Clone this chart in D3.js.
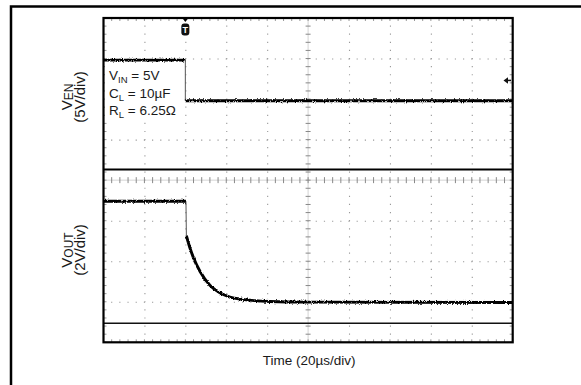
<!DOCTYPE html>
<html>
<head>
<meta charset="utf-8">
<script src="https://cdn.jsdelivr.net/npm/d3@7"></script>
<style>
  body { margin: 0; background: #fff; }
  svg { display: block; font-family: "Liberation Sans", Arial, sans-serif; }
  .lbl { fill: #1a1a1a; }
</style>
</head>
<body>
<script>
// scope screen: 10 divisions of 20us across, 8 divisions up
var timeDomain = [-40, 160];
var divDomain = [-4, 4];
var triggerTime = 0;

// EN channel: 5V/div, ground marker 1.96 div above centre
var enVperDiv = 5, enGround = 1.96, enTrigLevel = 2.5;
var enTime  = [-40, 0, 0, 160];
var enVolts = [5.0, 5.0, 0.0, 0.0];

// OUT channel: 2V/div, ground 3 div below centre
var outVperDiv = 2, outGround = -3.02;
var outTime  = [-40, 0.3, 0.5, 2.3, 3.9, 7.2, 12.1, 16.9, 21.8, 28.2, 31.6, 41.4, 60, 160];
var outVolts = [5.0, 5.0, 3.3, 2.68, 2.23, 1.53, 0.84, 0.48, 0.27, 0.16, 0.12, 0.05, 0.02, 0.0];

var conditions = [["V", "IN", " = 5V"], ["C", "L", " = 10\u00b5F"], ["R", "L", " = 6.25\u03a9"]];
var xTitle = "Time (20\u00b5s/div)";
var enTitle = ["V", "EN", "(5V/div)"];
var outTitle = ["V", "OUT", "(2V/div)"];

var width = 581, height = 385;
var plot = {left: 103.5, right: 512.7, top: 18, bottom: 342.3};

var svg = d3.select("body").append("svg")
    .attr("width", width)
    .attr("height", height);

// scope noise on the slow parts of the traces (vertical jitter only)
var defs = svg.append("defs");
var filt = defs.append("filter").attr("id", "rough").attr("filterUnits", "userSpaceOnUse")
    .attr("x", 0).attr("y", 0).attr("width", width).attr("height", height);
filt.append("feTurbulence").attr("type", "fractalNoise")
    .attr("baseFrequency", "1.1 0.7").attr("numOctaves", 2).attr("seed", 4).attr("result", "n");
filt.append("feColorMatrix").attr("in", "n").attr("type", "matrix")
    .attr("values", "0 0 0 0 0.5  0 1 0 0 0  0 0 1 0 0  0 0 0 0 1").attr("result", "ny");
filt.append("feDisplacementMap").attr("in", "SourceGraphic").attr("in2", "ny")
    .attr("scale", 3.4).attr("xChannelSelector", "R").attr("yChannelSelector", "G");

var x = d3.scaleLinear().domain(timeDomain).range([plot.left, plot.right]);
var yDiv = d3.scaleLinear().domain(divDomain).range([plot.bottom, plot.top]);

// outer frame (cropped at right/bottom)
svg.append("path")
    .attr("d", "M11," + height + "V6.5H" + width)
    .attr("fill", "none").attr("stroke", "#000").attr("stroke-width", 2.5);

var stepX = (x(20) - x(0)) / 5, stepY = (yDiv(0) - yDiv(1)) / 5;

// dotted grid lines
var vGrid = d3.range(-20, 160, 20).filter(function(d) { return d !== 60; });
var hGrid = d3.range(-3, 4, 1).filter(function(d) { return d !== 0; });

var gx = svg.append("g")
    .attr("transform", "translate(0," + (plot.bottom + 0.6) + ")")
    .call(d3.axisBottom(x).tickValues(vGrid).tickFormat("").tickSize(-(plot.bottom - plot.top)));
gx.select(".domain").remove();
gx.selectAll("line").attr("stroke", "#9a9a9a").attr("stroke-width", 1.1)
    .attr("stroke-dasharray", "1.2," + (stepY - 1.2));

var gy = svg.append("g")
    .attr("transform", "translate(" + (plot.left - 0.6) + ",0)")
    .call(d3.axisLeft(yDiv).tickValues(hGrid).tickFormat("").tickSize(-(plot.right - plot.left)));
gy.select(".domain").remove();
gy.selectAll("line").attr("stroke", "#9a9a9a").attr("stroke-width", 1.1)
    .attr("stroke-dasharray", "1.2," + (stepX - 1.2));

// centre graticule lines with minor ticks
var minorT = d3.range(-40, 160.01, 4);
var minorD = d3.range(-4, 4.01, 0.2);
var cx = x(60), cy = yDiv(0);
svg.append("line").attr("x1", cx).attr("x2", cx).attr("y1", plot.top).attr("y2", plot.bottom)
    .attr("stroke", "#c8c8c8").attr("stroke-width", 0.8);
svg.append("line").attr("y1", cy).attr("y2", cy).attr("x1", plot.left).attr("x2", plot.right)
    .attr("stroke", "#c8c8c8").attr("stroke-width", 0.8);

svg.append("g").selectAll("line").data(minorD).join("line")
    .attr("x1", cx - 2.5).attr("x2", cx + 2.5)
    .attr("y1", function(d) { return yDiv(d); }).attr("y2", function(d) { return yDiv(d); })
    .attr("stroke", "#888").attr("stroke-width", 1);
svg.append("g").selectAll("line").data(minorT).join("line")
    .attr("y1", cy - 3).attr("y2", cy + 3)
    .attr("x1", function(d) { return x(d); }).attr("x2", function(d) { return x(d); })
    .attr("stroke", "#888").attr("stroke-width", 1);

// edge ticks
var edge = svg.append("g").attr("stroke", "#999").attr("stroke-width", 1);
edge.selectAll(".et").data(minorT).join("line").attr("class", "et")
    .attr("x1", function(d) { return x(d); }).attr("x2", function(d) { return x(d); })
    .attr("y1", plot.top).attr("y2", plot.top + 3);
edge.selectAll(".eb").data(minorT).join("line").attr("class", "eb")
    .attr("x1", function(d) { return x(d); }).attr("x2", function(d) { return x(d); })
    .attr("y1", plot.bottom).attr("y2", plot.bottom - 3);
edge.selectAll(".el").data(minorD).join("line").attr("class", "el")
    .attr("y1", function(d) { return yDiv(d); }).attr("y2", function(d) { return yDiv(d); })
    .attr("x1", plot.left).attr("x2", plot.left + 3);
edge.selectAll(".er").data(minorD).join("line").attr("class", "er")
    .attr("y1", function(d) { return yDiv(d); }).attr("y2", function(d) { return yDiv(d); })
    .attr("x1", plot.right).attr("x2", plot.right - 3);

// panel separator and lower reference line
svg.append("line").attr("x1", plot.left).attr("x2", plot.right)
    .attr("y1", 169.5).attr("y2", 169.5).attr("stroke", "#000").attr("stroke-width", 2);
svg.append("line").attr("x1", plot.left).attr("x2", plot.right)
    .attr("y1", 323.3).attr("y2", 323.3).attr("stroke", "#111").attr("stroke-width", 1.5);

// white box for the test conditions
svg.append("rect").attr("x", plot.left + 1.5).attr("y", 63).attr("width", 78).attr("height", 56)
    .attr("fill", "#fff");

// traces: slow parts drawn thick and noisy, near-vertical edges thin
function drawTrace(times, volts, vPerDiv, ground) {
    var pts = times.map(function(t, i) {
        return [x(t), yDiv(ground + volts[i] / vPerDiv)];
    });
    var runs = [], cur = [pts[0]];
    for (var i = 1; i < pts.length; i++) {
        var dx = pts[i][0] - pts[i - 1][0], dy = pts[i][1] - pts[i - 1][1];
        if (Math.abs(dy) > 12 * Math.abs(dx) + 1) {
            svg.append("line")
                .attr("x1", pts[i - 1][0]).attr("y1", pts[i - 1][1])
                .attr("x2", pts[i][0]).attr("y2", pts[i][1])
                .attr("stroke", "#555").attr("stroke-width", 1);
            runs.push(cur);
            cur = [pts[i]];
        } else {
            cur.push(pts[i]);
        }
    }
    runs.push(cur);
    var line = d3.line().curve(d3.curveMonotoneX);
    runs.forEach(function(r) {
        if (r.length < 2) return;
        svg.append("path").attr("d", line(r))
            .attr("fill", "none").attr("stroke", "#000").attr("stroke-width", 2.9)
            .attr("filter", "url(#rough)");
    });
}
drawTrace(enTime, enVolts, enVperDiv, enGround);
drawTrace(outTime, outVolts, outVperDiv, outGround);

// plot border
svg.append("rect").attr("x", plot.left).attr("y", plot.top)
    .attr("width", plot.right - plot.left).attr("height", plot.bottom - plot.top)
    .attr("fill", "none").attr("stroke", "#000").attr("stroke-width", 2.2);

// trigger marker
var tx = x(triggerTime);
svg.append("path").attr("d", "M" + (tx - 3.5) + ",17.5L" + (tx + 3.5) + ",17.5L" + tx + ",22Z").attr("fill", "#000");
svg.append("rect").attr("x", tx - 4).attr("y", 23.5).attr("width", 8).attr("height", 12).attr("rx", 3)
    .attr("fill", "#111");
svg.append("text").attr("x", tx).attr("y", 32.5).attr("text-anchor", "middle")
    .attr("font-size", 9).attr("font-weight", "bold").attr("fill", "#fff").text("T");

// trigger level arrow
var ty = yDiv(enGround + enTrigLevel / enVperDiv);
svg.append("path")
    .attr("d", "M503.5," + ty + "L508," + (ty - 3.2) + "L508," + (ty + 3.2) + "Z")
    .attr("fill", "#111");
svg.append("line").attr("x1", 507).attr("x2", 511).attr("y1", ty).attr("y2", ty)
    .attr("stroke", "#111").attr("stroke-width", 1.5);

// test conditions
conditions.forEach(function(c, i) {
    var t = svg.append("text").attr("class", "lbl")
        .attr("x", 109).attr("y", 80 + i * 17.5).attr("font-size", 13.5);
    t.append("tspan").text(c[0]);
    t.append("tspan").attr("font-size", 9.5).attr("dy", 3).text(c[1]);
    t.append("tspan").attr("dy", -3).text(c[2]);
});

// axis titles
function yTitle(parts, cyPos) {
    var g = svg.append("g").attr("transform", "translate(0," + cyPos + ") rotate(-90)");
    var t1 = g.append("text").attr("class", "lbl").attr("x", 0).attr("y", 72)
        .attr("text-anchor", "middle").attr("font-size", 15);
    t1.append("tspan").text(parts[0]);
    t1.append("tspan").attr("font-size", 12).attr("dy", 1).text(parts[1]);
    g.append("text").attr("class", "lbl").attr("x", 0).attr("y", 84.5)
        .attr("text-anchor", "middle").attr("font-size", 15).text(parts[2]);
}
yTitle(enTitle, 97);
yTitle(outTitle, 250);

svg.append("text").attr("class", "lbl").attr("x", (plot.left + plot.right) / 2 + 1).attr("y", 365)
    .attr("text-anchor", "middle").attr("font-size", 13.5).text(xTitle);
</script>
</body>
</html>
